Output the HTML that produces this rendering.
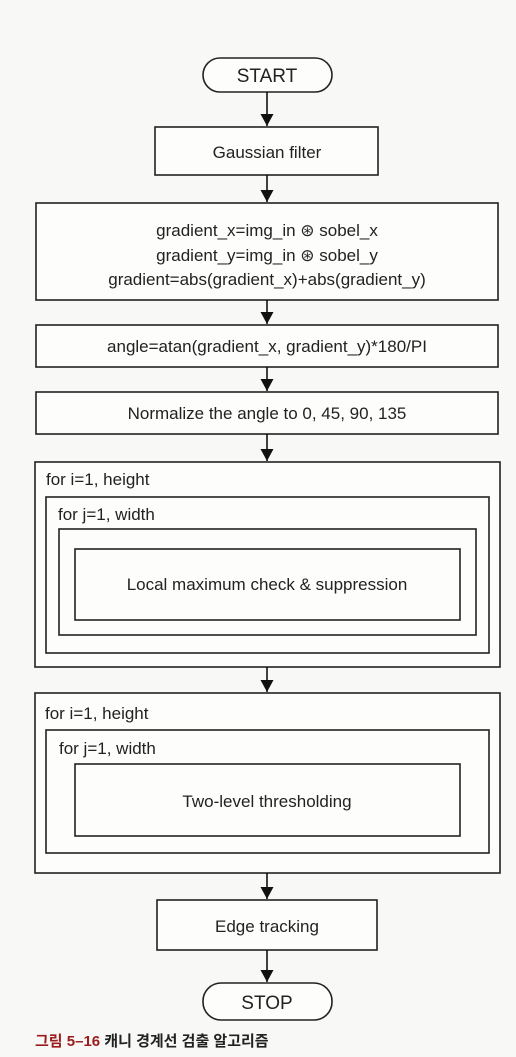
<!DOCTYPE html>
<html><head><meta charset="utf-8"><style>
html,body{margin:0;padding:0;background:#f8f8f6;}
svg{display:block}
text{font-family:"Liberation Sans",Arial,sans-serif;fill:#222;}
</style></head><body>
<svg width="516" height="1057" viewBox="0 0 516 1057" xmlns="http://www.w3.org/2000/svg">
<defs><marker id="a" markerWidth="14" markerHeight="14" refX="12" refY="6.5" orient="auto" markerUnits="userSpaceOnUse"><path d="M0,0 L12,6.5 L0,13 Z" fill="#111"/></marker></defs>
<g fill="#fdfdfc" stroke="#222" stroke-width="1.6">
<rect x="203" y="58" width="129" height="34" rx="17"/>
<rect x="155" y="127" width="223" height="48"/>
<rect x="36" y="203" width="462" height="97"/>
<rect x="36" y="325" width="462" height="42"/>
<rect x="36" y="392" width="462" height="42"/>
<rect x="35" y="462" width="465" height="205"/>
<rect x="46" y="497" width="443" height="156"/>
<rect x="59" y="529" width="417" height="106"/>
<rect x="75" y="549" width="385" height="71"/>
<rect x="35" y="693" width="465" height="180"/>
<rect x="46" y="730" width="443" height="123"/>
<rect x="75" y="764" width="385" height="72"/>
<rect x="157" y="900" width="220" height="50"/>
<rect x="203" y="983" width="129" height="37" rx="18"/>
</g>
<g stroke="#111" stroke-width="1.6" marker-end="url(#a)">
<line x1="267" y1="92" x2="267" y2="126"/>
<line x1="267" y1="175" x2="267" y2="202"/>
<line x1="267" y1="300" x2="267" y2="324"/>
<line x1="267" y1="367" x2="267" y2="391"/>
<line x1="267" y1="434" x2="267" y2="461"/>
<line x1="267" y1="667" x2="267" y2="692"/>
<line x1="267" y1="873" x2="267" y2="899"/>
<line x1="267" y1="950" x2="267" y2="982"/>
</g>
<g font-size="17" text-anchor="middle">
<text x="267" y="82" font-size="19">START</text>
<text x="267" y="158">Gaussian filter</text>
<text x="267" y="236">gradient_x=img_in ⊛ sobel_x</text>
<text x="267" y="261">gradient_y=img_in ⊛ sobel_y</text>
<text x="267" y="285">gradient=abs(gradient_x)+abs(gradient_y)</text>
<text x="267" y="352">angle=atan(gradient_x, gradient_y)*180/PI</text>
<text x="267" y="419">Normalize the angle to 0, 45, 90, 135</text>
<text x="267" y="590">Local maximum check &amp; suppression</text>
<text x="267" y="807">Two-level thresholding</text>
<text x="267" y="932">Edge tracking</text>
<text x="267" y="1009" font-size="19">STOP</text>
</g>
<g font-size="17">
<text x="46" y="485">for i=1, height</text>
<text x="58" y="520">for j=1, width</text>
<text x="45" y="719">for i=1, height</text>
<text x="59" y="754">for j=1, width</text>
</g>
<text x="35" y="1046" font-size="15" font-weight="bold" style="font-family:'Liberation Sans','Noto Sans CJK KR',sans-serif"><tspan fill="#9b1c1c">그림 5–16</tspan><tspan fill="#222"> 캐니 경계선 검출 알고리즘</tspan></text>
</svg>
</body></html>
